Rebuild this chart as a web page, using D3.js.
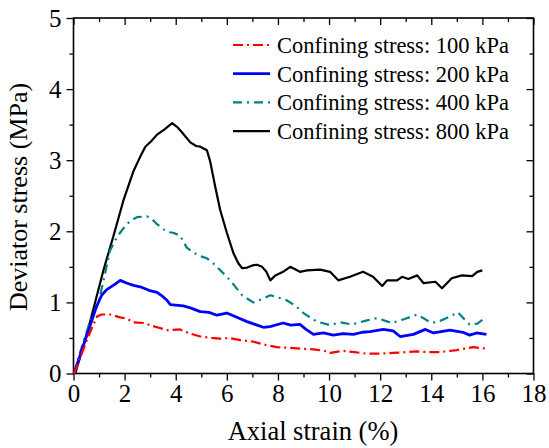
<!DOCTYPE html>
<html><head><meta charset="utf-8">
<script src="https://cdn.jsdelivr.net/npm/d3@7"></script>
<style>body{margin:0;background:#fff}svg{display:block}</style>
</head><body>
<svg id="c" width="549" height="448"></svg>
<script>
const xTicks = [0,2,4,6,8,10,12,14,16,18];
const yTicks = [0,1,2,3,4,5];
const seriesNames = ["Confining stress: 100 kPa","Confining stress: 200 kPa","Confining stress: 400 kPa","Confining stress: 800 kPa"];

const s100 = [[0.02,0],[0.26,0.22],[0.5,0.45],[0.73,0.65],[0.92,0.8],[1.1,0.83],[1.43,0.83],[1.83,0.79],[2.1,0.77],[2.34,0.72],[2.74,0.71],[3.0,0.68],[3.27,0.65],[3.66,0.61],[4.17,0.62],[4.5,0.57],[4.96,0.52],[5.4,0.5],[5.74,0.49],[6.1,0.5],[6.52,0.47],[7.0,0.45],[7.43,0.41],[7.96,0.37],[8.47,0.36],[8.9,0.35],[9.39,0.34],[9.8,0.32],[10.04,0.29],[10.55,0.32],[11.0,0.3],[11.46,0.28],[12.0,0.28],[12.51,0.29],[13.0,0.3],[13.45,0.31],[13.9,0.3],[14.35,0.3],[15.0,0.33],[15.64,0.37],[16.16,0.35]];
const s200 = [[0.02,0],[0.3,0.3],[0.6,0.62],[0.9,0.94],[1.1,1.1],[1.3,1.18],[1.6,1.25],[1.83,1.31],[2.1,1.27],[2.35,1.24],[2.61,1.22],[2.95,1.17],[3.27,1.14],[3.5,1.08],[3.66,1.03],[3.79,0.97],[4.3,0.95],[4.6,0.92],[4.96,0.87],[5.3,0.86],[5.61,0.82],[6.0,0.85],[6.39,0.79],[6.79,0.73],[7.1,0.69],[7.43,0.65],[7.69,0.66],[8.2,0.71],[8.5,0.68],[8.86,0.69],[9.1,0.62],[9.39,0.55],[9.78,0.57],[10.17,0.54],[10.55,0.56],[10.95,0.55],[11.3,0.58],[11.6,0.59],[12.12,0.62],[12.51,0.6],[12.78,0.52],[13.3,0.55],[13.77,0.62],[14.09,0.57],[14.73,0.61],[15.24,0.58],[15.5,0.54],[15.77,0.57],[16.16,0.55]];
const s400 = [[0.02,0],[0.26,0.3],[0.6,0.68],[1.0,1.03],[1.2,1.35],[1.43,1.73],[1.7,1.92],[1.95,2.04],[2.2,2.14],[2.49,2.2],[2.87,2.21],[3.05,2.18],[3.27,2.1],[3.66,1.99],[3.9,1.98],[4.17,1.94],[4.43,1.77],[4.7,1.7],[4.96,1.65],[5.22,1.62],[5.47,1.55],[5.75,1.45],[6.13,1.31],[6.6,1.1],[7.03,1.0],[7.4,1.05],[7.7,1.1],[8.0,1.07],[8.34,1.03],[8.7,0.95],[9.0,0.85],[9.52,0.73],[10.04,0.68],[10.43,0.72],[10.9,0.69],[11.4,0.74],[11.88,0.78],[12.45,0.71],[12.9,0.76],[13.45,0.83],[13.96,0.72],[14.22,0.72],[14.6,0.78],[15.05,0.86],[15.3,0.76],[15.5,0.69],[15.8,0.7],[16.02,0.76]];
const s800 = [[0.07,0],[0.6,0.66],[1.17,1.45],[1.6,1.98],[1.95,2.43],[2.34,2.84],[2.6,3.04],[2.81,3.19],[3.05,3.27],[3.27,3.36],[3.55,3.43],[3.86,3.52],[4.05,3.47],[4.25,3.39],[4.57,3.25],[4.8,3.2],[4.96,3.19],[5.22,3.14],[5.35,2.98],[5.55,2.62],[5.74,2.3],[6.0,1.98],[6.26,1.69],[6.45,1.55],[6.6,1.48],[6.8,1.49],[7.0,1.52],[7.18,1.53],[7.38,1.5],[7.55,1.43],[7.7,1.31],[7.9,1.38],[8.2,1.43],[8.48,1.5],[8.86,1.43],[9.14,1.45],[9.65,1.46],[10.04,1.43],[10.36,1.31],[10.82,1.36],[11.33,1.43],[11.72,1.36],[12.08,1.23],[12.27,1.31],[12.66,1.31],[12.86,1.36],[13.1,1.33],[13.45,1.38],[13.7,1.27],[14.16,1.29],[14.42,1.2],[14.8,1.34],[15.2,1.38],[15.6,1.37],[15.8,1.43],[16.0,1.45]];
const seriesData = [s100, s200, s400, s800];
const seriesColors = ["#ff0000","#0000ff","#008080","#000000"];
const seriesDash = ["10,4,2,4", null, "9,5,2,5", null];
const seriesWidth = [2.2, 2.8, 2.2, 2.2];

const svg = d3.select("#c");
const m = {l:73.5, r:533.5, t:18, b:373.5};
const x = d3.scaleLinear().domain([0,18]).range([m.l, m.r]);
const y = d3.scaleLinear().domain([0,5]).range([m.b, m.t]);
const font = "Liberation Serif, Times New Roman, serif";

const xMinor = d3.range(1,18,2);
const yMinor = d3.range(0.5,5,1);

svg.append("g").attr("transform",`translate(0,${m.b})`)
  .call(d3.axisBottom(x).tickValues(xTicks).tickSize(7).tickPadding(4).tickFormat(d3.format("d")));
svg.append("g").attr("transform",`translate(0,${m.b})`)
  .call(d3.axisBottom(x).tickValues(xMinor).tickSize(4).tickFormat(""));
svg.append("g").attr("transform",`translate(${m.l},0)`)
  .call(d3.axisLeft(y).tickValues(yTicks).tickSize(7).tickPadding(5).tickFormat(d3.format("d")));
svg.append("g").attr("transform",`translate(${m.l},0)`)
  .call(d3.axisLeft(y).tickValues(yMinor).tickSize(4).tickFormat(""));
svg.append("g").attr("transform",`translate(0,${m.t})`)
  .call(d3.axisBottom(x).tickValues(xTicks).tickSize(7).tickFormat(""));
svg.append("g").attr("transform",`translate(0,${m.t})`)
  .call(d3.axisBottom(x).tickValues(xMinor).tickSize(4).tickFormat(""));
svg.append("g").attr("transform",`translate(${m.r},0)`)
  .call(d3.axisLeft(y).tickValues(yTicks).tickSize(7).tickFormat(""));
svg.append("g").attr("transform",`translate(${m.r},0)`)
  .call(d3.axisLeft(y).tickValues(yMinor).tickSize(4).tickFormat(""));

svg.selectAll(".domain").remove();
svg.selectAll(".tick line").attr("stroke","#000").attr("stroke-width",1.3);
svg.selectAll(".tick text").attr("font-family",font).attr("font-size",25).attr("fill","#000");

svg.append("rect").attr("x",m.l).attr("y",m.t).attr("width",m.r-m.l).attr("height",m.b-m.t)
  .attr("fill","none").attr("stroke","#000").attr("stroke-width",1.6);

const line = d3.line().x(d=>x(d[0])).y(d=>y(d[1]));
[3,2,1,0].forEach(i=>{
  svg.append("path").datum(seriesData[i]).attr("d",line)
    .attr("fill","none").attr("stroke",seriesColors[i]).attr("stroke-width",seriesWidth[i])
    .attr("stroke-dasharray",seriesDash[i]).attr("stroke-linejoin","round");
});

const lg = svg.append("g");
seriesNames.forEach((n,i)=>{
  const yy = 45 + i*28.7;
  lg.append("line").attr("x1",233).attr("x2",270).attr("y1",yy).attr("y2",yy)
    .attr("stroke",seriesColors[i]).attr("stroke-width",seriesWidth[i]).attr("stroke-dasharray",seriesDash[i]);
  lg.append("text").attr("x",277).attr("y",yy).attr("dy","0.35em").attr("font-family",font)
    .attr("font-size",22.5).text(n);
});

svg.append("text").attr("x",313).attr("y",440).attr("text-anchor","middle")
  .attr("font-family",font).attr("font-size",26.5).text("Axial strain (%)");
svg.append("text").attr("transform",`translate(27,197) rotate(-90)`).attr("text-anchor","middle")
  .attr("font-family",font).attr("font-size",26).text("Deviator stress (MPa)");
</script>
</body></html>
